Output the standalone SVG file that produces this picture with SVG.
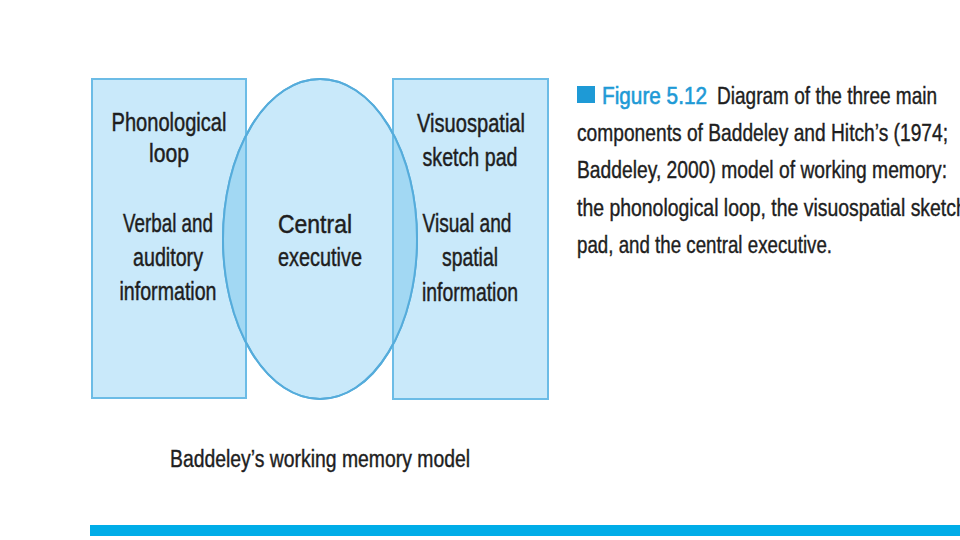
<svg xmlns="http://www.w3.org/2000/svg" width="960" height="540" viewBox="0 0 960 540">
<style>
.box{fill:#c9e9fa;stroke:#6cbce6;stroke-width:2}
.ell{fill:#c9e9fa;stroke:#55acdb;stroke-width:2}
.ov{fill:#a2d8f3}
.t{font-family:"Liberation Sans",Arial,sans-serif;font-size:25px;fill:#1e1e1e;stroke:#1e1e1e;stroke-width:0.45;text-anchor:middle}
.c{font-family:"Liberation Sans",Arial,sans-serif;font-size:24px;fill:#1e1e1e;stroke:#1e1e1e;stroke-width:0.4}
.fig{fill:#1e9ad6;stroke:#1e9ad6;stroke-width:0.6}
</style>
<defs>
<clipPath id="rects"><rect x="92" y="79" width="154" height="319"/><rect x="393" y="79" width="155" height="320"/></clipPath>
</defs>
<rect width="960" height="540" fill="#fff"/>
<g id="phonological-loop">
<rect class="box" x="92" y="79" width="154" height="319"/>
</g>
<g id="visuospatial-sketch-pad">
<rect class="box" x="393" y="79" width="155" height="320"/>
</g>
<g id="central-executive">
<ellipse class="ell" cx="320" cy="239" rx="97" ry="160"/>
<ellipse class="ov" cx="320" cy="239" rx="97" ry="160" clip-path="url(#rects)"/>
<line x1="246" y1="79" x2="246" y2="398" stroke="#6cbce6" stroke-width="2"/>
<line x1="393" y1="79" x2="393" y2="399" stroke="#6cbce6" stroke-width="2"/>
<ellipse cx="320" cy="239" rx="97" ry="160" fill="none" stroke="#55acdb" stroke-width="2"/>
</g>
<g id="labels">
<text class="t" x="169" y="131" textLength="115" lengthAdjust="spacingAndGlyphs">Phonological</text>
<text class="t" x="169" y="162" textLength="40" lengthAdjust="spacingAndGlyphs">loop</text>
<text class="t" x="168" y="232" textLength="90" lengthAdjust="spacingAndGlyphs">Verbal and</text>
<text class="t" x="168" y="266" textLength="70" lengthAdjust="spacingAndGlyphs">auditory</text>
<text class="t" x="168" y="300" textLength="97" lengthAdjust="spacingAndGlyphs">information</text>
<text class="t" x="315" y="233" textLength="74" lengthAdjust="spacingAndGlyphs">Central</text>
<text class="t" x="320" y="266" textLength="84" lengthAdjust="spacingAndGlyphs">executive</text>
<text class="t" x="471" y="132" textLength="108" lengthAdjust="spacingAndGlyphs">Visuospatial</text>
<text class="t" x="470" y="166" textLength="95" lengthAdjust="spacingAndGlyphs">sketch pad</text>
<text class="t" x="467" y="232" textLength="89" lengthAdjust="spacingAndGlyphs">Visual and</text>
<text class="t" x="470" y="266" textLength="56" lengthAdjust="spacingAndGlyphs">spatial</text>
<text class="t" x="470" y="301" textLength="96" lengthAdjust="spacingAndGlyphs">information</text>
</g>
<g id="caption">
<rect x="577" y="86" width="18" height="17" fill="#1e9ad6"/>
<g transform="translate(577,0) scale(0.84,1)">
<text class="c fig" x="29.8" y="104" textLength="125" lengthAdjust="spacingAndGlyphs">Figure 5.12</text>
<text class="c" x="166.7" y="104" textLength="262" lengthAdjust="spacingAndGlyphs">Diagram of the three main</text>
<text class="c" x="0" y="141" textLength="441.7" lengthAdjust="spacingAndGlyphs">components of Baddeley and Hitch’s (1974;</text>
<text class="c" x="0" y="178" textLength="440.5" lengthAdjust="spacingAndGlyphs">Baddeley, 2000) model of working memory:</text>
<text class="c" x="0" y="216" textLength="464" lengthAdjust="spacingAndGlyphs">the phonological loop, the visuospatial sketch</text>
<text class="c" x="0" y="253" textLength="303.6" lengthAdjust="spacingAndGlyphs">pad, and the central executive.</text>
</g>
</g>
<g id="title">
<text class="c" x="170" y="467" style="font-size:23px" textLength="300" lengthAdjust="spacingAndGlyphs">Baddeley’s working memory model</text>
</g>
<rect x="90" y="525" width="870" height="11" fill="#00ade8"/>
</svg>
